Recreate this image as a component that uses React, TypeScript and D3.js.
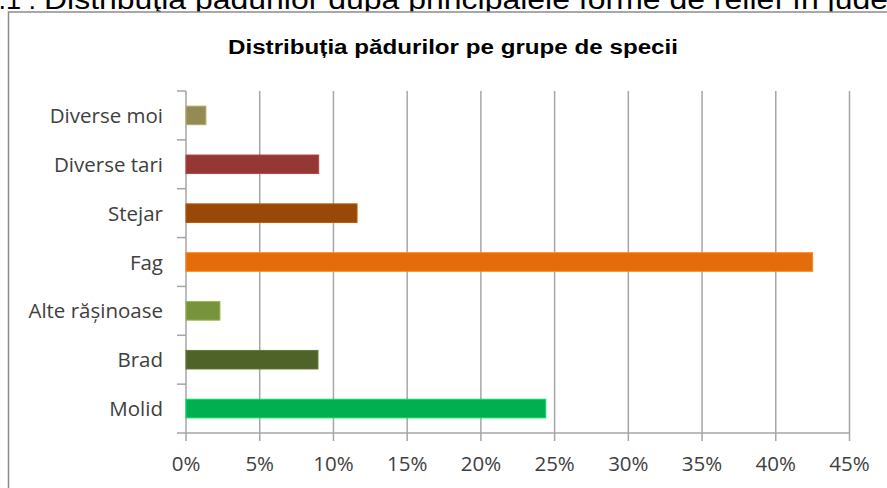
import React from "react";
import * as d3 from "d3";

const categories = ["Diverse moi", "Diverse tari", "Stejar", "Fag", "Alte rășinoase", "Brad", "Molid"];
const values = [1.35, 9.0, 11.6, 42.5, 2.3, 8.95, 24.4];
const colors = ["#948A54", "#953735", "#984807", "#E46C0A", "#77933C", "#4F6228", "#00B050"];
const xTicks = [0, 5, 10, 15, 20, 25, 30, 35, 40, 45];
const chartTitle = "Distribuția pădurilor pe grupe de specii";
const captionPrefix = "1.1 :";
const pageCaption = "Distribuţia pădurilor după principalele forme de relief în jude";
const captionEnd = "ţ";

const W = 887;
const H = 488;
const plot = { left: 186, right: 849.5, top: 91, bottom: 433 };
const labelFont = "'Open Sans', sans-serif";

export default function App() {
  const x = d3.scaleLinear().domain([0, 45]).range([plot.left, plot.right]);
  const y = d3
    .scaleBand<string>()
    .domain(categories)
    .range([plot.top, plot.bottom])
    .paddingInner(0.62)
    .paddingOuter(0.31);
  const bandStep = (plot.bottom - plot.top) / categories.length;
  const grid = "#A6A6A6";

  return (
    <div style={{ position: "fixed", left: 0, top: 0 }}>
      <svg width={W} height={H} style={{ display: "block", background: "#fff" }}>
        {/* caption of the page, cut off at the top */}
        <text
          x={36}
          y={9}
          textAnchor="end"
          fontFamily="'Liberation Sans', Arial, sans-serif"
          fontSize={27}
          fill="#000"
        >
          {captionPrefix}
        </text>
        <text
          x={44}
          y={9}
          fontFamily="'Liberation Sans', Arial, sans-serif"
          fontSize={27}
          fill="#000"
          textLength={844}
          lengthAdjust="spacingAndGlyphs"
        >
          {pageCaption}
        </text>
        <text x={890} y={9} fontFamily="'Liberation Sans', Arial, sans-serif" fontSize={27} fill="#000">
          {captionEnd}
        </text>
        {/* chart frame */}
        <rect x={8.5} y={12} width={W + 20} height={H + 20} fill="#fff" stroke="#8C8C8C" strokeWidth={1.5} />
        {/* title */}
        <text
          x={453}
          y={54}
          textAnchor="middle"
          fontFamily="'Liberation Sans', Arial, sans-serif"
          fontWeight="bold"
          fontSize={19.5}
          fill="#000"
          textLength={450}
          lengthAdjust="spacingAndGlyphs"
        >
          {chartTitle}
        </text>
        {/* gridlines */}
        {xTicks.map((t) => (
          <line key={"g" + t} x1={x(t)} x2={x(t)} y1={plot.top} y2={plot.bottom} stroke={grid} strokeWidth={1.5} />
        ))}
        {/* bottom axis */}
        <line x1={plot.left} x2={x(45)} y1={plot.bottom} y2={plot.bottom} stroke={grid} strokeWidth={1.5} />
        {xTicks.map((t) => (
          <g key={"t" + t}>
            <line x1={x(t)} x2={x(t)} y1={plot.bottom} y2={plot.bottom + 8} stroke={grid} strokeWidth={1.5} />
            <text
              x={x(t)}
              y={471}
              textAnchor="middle"
              fontFamily={labelFont}
              fontSize={20.5}
              fill="#404040"
            >
              {t + "%"}
            </text>
          </g>
        ))}
        {/* left axis ticks */}
        {d3.range(categories.length + 1).map((i) => (
          <line
            key={"yt" + i}
            x1={plot.left - 9}
            x2={plot.left}
            y1={plot.top + i * bandStep}
            y2={plot.top + i * bandStep}
            stroke={grid}
            strokeWidth={1.5}
          />
        ))}
        {/* bars */}
        {categories.map((c, i) => (
          <rect
            key={c}
            x={x(0)}
            y={y(c)}
            width={x(values[i]) - x(0)}
            height={y.bandwidth()}
            fill={colors[i]}
            stroke={d3.color(colors[i])!.brighter(0.6).formatHex()}
            strokeWidth={1}
          />
        ))}
        {/* category labels */}
        {categories.map((c) => (
          <text
            key={"l" + c}
            x={163}
            y={(y(c) ?? 0) + y.bandwidth() / 2 + 7.5}
            textAnchor="end"
            fontFamily={labelFont}
            fontSize={20.5}
            fill="#404040"
          >
            {c}
          </text>
        ))}
      </svg>
    </div>
  );
}
